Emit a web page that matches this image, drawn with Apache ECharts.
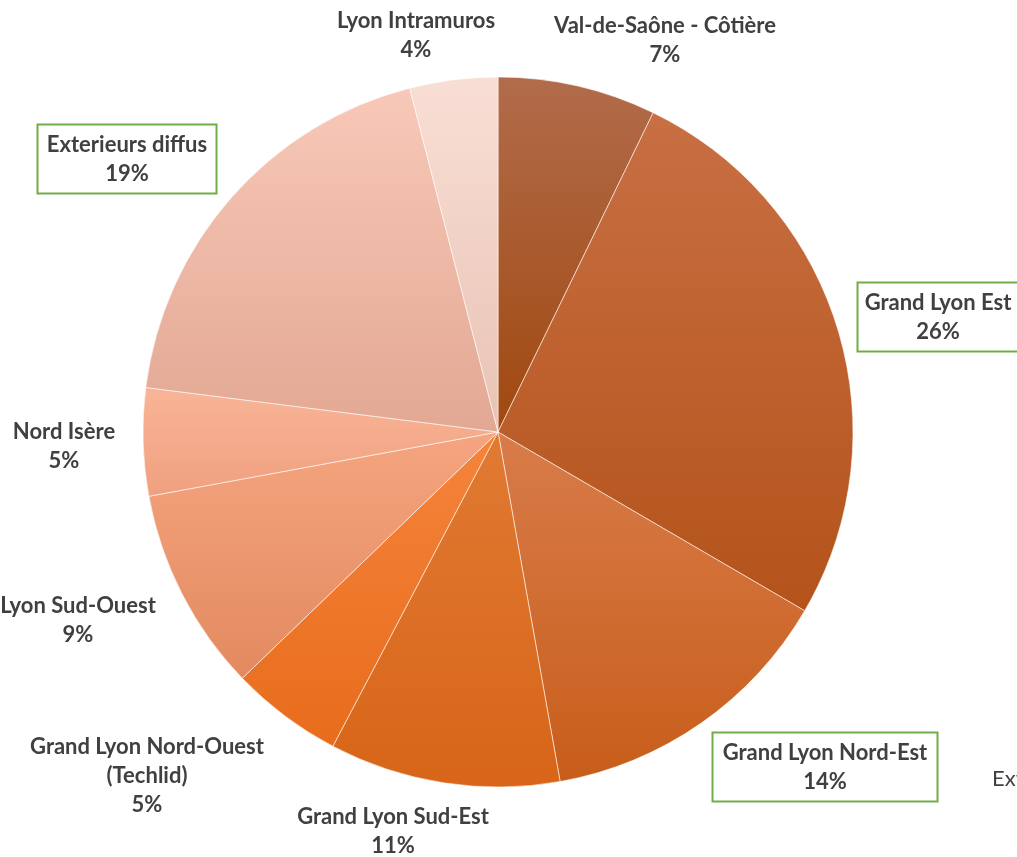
<!DOCTYPE html>
<html>
<head>
<meta charset="utf-8">
<script src="https://cdn.jsdelivr.net/npm/echarts@6/dist/echarts.min.js"></script>
<style>
html,body{margin:0;padding:0;background:#fff;}
#chart{width:1017px;height:857px;}
</style>
</head>
<body>
<div id="chart"></div>
<script>
// ---- data ----
var categories = [
  "Val-de-Saône - Côtière",
  "Grand Lyon Est",
  "Grand Lyon Nord-Est",
  "Grand Lyon Sud-Est",
  "Grand Lyon Nord-Ouest\n(Techlid)",
  "Lyon Sud-Ouest",
  "Nord Isère",
  "Exterieurs diffus",
  "Lyon Intramuros"
];
var values = [7.2, 26.2, 13.8, 10.5, 5.1, 9.3, 4.9, 19.0, 4.0];
var boxed = [false, true, true, false, false, false, false, true, false];

// ---- styling ----
var gradTop    = ["#B26C4B", "#C86F43", "#D87C4A", "#E07A33", "#F5843C", "#F5A580", "#F8B597", "#F8C8B8", "#F9DED5"];
var gradBottom = ["#A0480F", "#B4531A", "#C85D1A", "#D86518", "#E86C1C", "#E3895F", "#F0A07F", "#E2A893", "#E8C3B4"];
var labelPos = [
  [665, 40], [938, 317], [825, 767], [393, 831], [147, 776],
  [78, 620], [64, 446], [127, 159], [416, 35]
];
var boxWidth = [0, 143, 207, 0, 0, 0, 0, 161, 0];

var data = categories.map(function (c, i) {
  var item = {
    name: c,
    value: values[i],
    itemStyle: {
      color: new echarts.graphic.LinearGradient(0, 0, 0, 1, [
        { offset: 0, color: gradTop[i] },
        { offset: 1, color: gradBottom[i] }
      ])
    }
  };
  if (boxed[i]) {
    item.label = {
      width: boxWidth[i],
      borderColor: "#70AD47",
      borderWidth: 2,
      padding: [5, 8, 4, 8],
      backgroundColor: "#fff"
    };
  }
  return item;
});

var chart = echarts.init(document.getElementById("chart"));
chart.setOption({
  animation: false,
  backgroundColor: "#fff",
  series: [{
    type: "pie",
    center: [498, 432],
    radius: 355,
    startAngle: 90,
    clockwise: true,
    data: data,
    itemStyle: { borderColor: "rgba(255,255,255,0.7)", borderWidth: 0.8 },
    label: {
      show: true,
      position: "outside",
      overflow: "none",
      formatter: function (p) { return p.name + "\n" + Math.round(p.percent) + "%"; },
      fontFamily: "Lato",
      fontWeight: "bold",
      fontSize: 22,
      lineHeight: 29,
      color: "#404040",
      align: "center"
    },
    labelLine: { show: false },
    labelLayout: function (params) {
      var p = labelPos[params.dataIndex];
      return { x: p[0], y: p[1], align: "center", verticalAlign: "middle" };
    },
    emphasis: { disabled: true }
  }],
  graphic: [{
    type: "text",
    left: 992,
    top: 768,
    style: { text: "Exterieurs diffus", fontFamily: "Lato", fontSize: 22, fill: "#404040" }
  }]
});
</script>
</body>
</html>
